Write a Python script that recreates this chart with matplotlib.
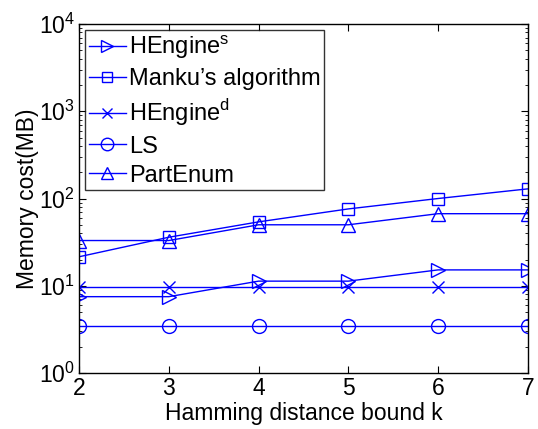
import matplotlib
matplotlib.use('agg')
import matplotlib.pyplot as plt

plt.rcParams['font.family'] = ['Liberation Sans', 'DejaVu Sans']

# hamming distance bound k
k = [2, 3, 4, 5, 6, 7]
# memory cost in MB
hengine_s = [7.5, 7.5, 11.3, 11.3, 15.2, 15.2]
manku = [21.5, 36, 54, 76, 100, 129]
hengine_d = [9.6, 9.6, 9.6, 9.6, 9.6, 9.6]
ls = [3.5, 3.5, 3.5, 3.5, 3.5, 3.5]
partenum = [33, 33, 50, 50, 67, 67]

fig = plt.figure(figsize=(5.38, 4.29), dpi=100)
ax = fig.add_axes([0.147, 0.1305, 0.834, 0.8135])

c = '#0000ff'
kw = dict(color=c, lw=1.0, markerfacecolor='none',
          markeredgecolor=c, markeredgewidth=1.0)
ax.plot(k, hengine_s, marker='>', markersize=10, label='HEngine$^\\mathregular{s}$', **kw)
ax.plot(k, manku, marker='s', markersize=8, label='Manku\u2019s algorithm', **kw)
ax.plot(k, hengine_d, marker='x', markersize=8, label='HEngine$^\\mathregular{d}$', **kw)
ax.plot(k, ls, marker='o', markersize=10, label='LS', **kw)
ax.plot(k, partenum, marker='^', markersize=10, label='PartEnum', **kw)

ax.set_yscale('log')
ax.set_xlim(2, 7)
ax.set_ylim(1, 1e4)
ax.set_xticks(k)
ax.tick_params(which='both', direction='in', top=True, right=True, labelsize=16.5)
ax.tick_params(which='major', length=5, pad=3)
ax.tick_params(which='minor', length=2.5)
for s in ax.spines.values():
    s.set_linewidth(1.0)

ax.set_xlabel('Hamming distance bound k', fontsize=16.5, labelpad=1)
ax.set_ylabel('Memory cost(MB)', fontsize=16.5, labelpad=0)

leg = ax.legend(loc='upper left', fontsize=17, frameon=True, fancybox=False,
                edgecolor='black', borderaxespad=0.25, handlelength=1.6,
                handletextpad=0.1, borderpad=0.15, labelspacing=0.3,
                markerscale=0.9)
leg.get_frame().set_linewidth(1.0)

fig.savefig('out.png', dpi=100)
